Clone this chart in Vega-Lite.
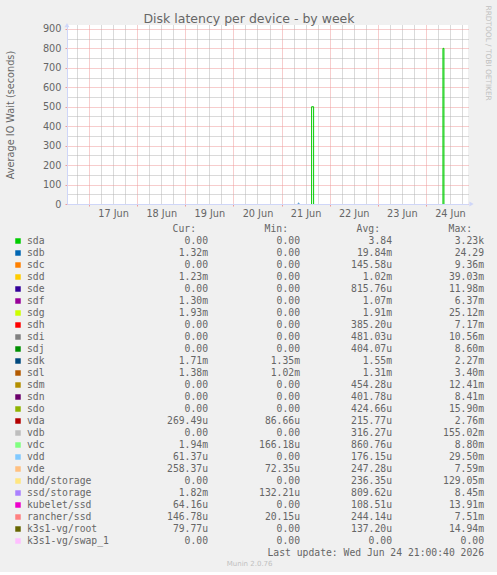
{
  "$schema": "https://vega.github.io/schema/vega-lite/v6.json",
  "background": "#f0f0f0",
  "padding": 5,
  "title": {
    "text": "RRDTOOL / TOBI OETIKER",
    "orient": "right",
    "anchor": "start",
    "frame": "bounds",
    "font": "DejaVu Sans",
    "fontSize": 7.4,
    "fontWeight": "normal",
    "color": "#c0c0c0",
    "offset": 1,
    "dx": -7
  },
  "datasets": {
    "series": [
      {"dev": "sda", "run": 1, "t": "2026-06-21T15:00:00", "v": 0, "seq": 1},
      {"dev": "sda", "run": 1, "t": "2026-06-21T15:00:00", "v": 500, "seq": 2},
      {"dev": "sda", "run": 1, "t": "2026-06-21T16:00:00", "v": 500, "seq": 3},
      {"dev": "sda", "run": 1, "t": "2026-06-21T16:00:00", "v": 0, "seq": 4},
      {"dev": "sda", "run": 2, "t": "2026-06-24T08:30:00", "v": 0, "seq": 5},
      {"dev": "sda", "run": 2, "t": "2026-06-24T08:30:00", "v": 800, "seq": 6},
      {"dev": "sda", "run": 2, "t": "2026-06-24T09:00:00", "v": 800, "seq": 7},
      {"dev": "sda", "run": 2, "t": "2026-06-24T09:00:00", "v": 0, "seq": 8},
      {"dev": "sdb", "run": 1, "t": "2026-06-21T08:00:00", "v": 0, "seq": 1},
      {"dev": "sdb", "run": 1, "t": "2026-06-21T08:30:00", "v": 4, "seq": 2},
      {"dev": "sdb", "run": 1, "t": "2026-06-21T09:00:00", "v": 0, "seq": 3}
    ],
    "legend": [
      {"dev": "sda", "cur": "0.00\u00a0", "min": "0.00\u00a0", "avg": "3.84\u00a0", "max": "3.23k"},
      {"dev": "sdb", "cur": "1.32m", "min": "0.00\u00a0", "avg": "19.84m", "max": "24.29\u00a0"},
      {"dev": "sdc", "cur": "0.00\u00a0", "min": "0.00\u00a0", "avg": "145.58u", "max": "9.36m"},
      {"dev": "sdd", "cur": "1.23m", "min": "0.00\u00a0", "avg": "1.02m", "max": "39.03m"},
      {"dev": "sde", "cur": "0.00\u00a0", "min": "0.00\u00a0", "avg": "815.76u", "max": "11.98m"},
      {"dev": "sdf", "cur": "1.30m", "min": "0.00\u00a0", "avg": "1.07m", "max": "6.37m"},
      {"dev": "sdg", "cur": "1.93m", "min": "0.00\u00a0", "avg": "1.91m", "max": "25.12m"},
      {"dev": "sdh", "cur": "0.00\u00a0", "min": "0.00\u00a0", "avg": "385.20u", "max": "7.17m"},
      {"dev": "sdi", "cur": "0.00\u00a0", "min": "0.00\u00a0", "avg": "481.03u", "max": "10.56m"},
      {"dev": "sdj", "cur": "0.00\u00a0", "min": "0.00\u00a0", "avg": "404.07u", "max": "8.60m"},
      {"dev": "sdk", "cur": "1.71m", "min": "1.35m", "avg": "1.55m", "max": "2.27m"},
      {"dev": "sdl", "cur": "1.38m", "min": "1.02m", "avg": "1.31m", "max": "3.40m"},
      {"dev": "sdm", "cur": "0.00\u00a0", "min": "0.00\u00a0", "avg": "454.28u", "max": "12.41m"},
      {"dev": "sdn", "cur": "0.00\u00a0", "min": "0.00\u00a0", "avg": "401.78u", "max": "8.41m"},
      {"dev": "sdo", "cur": "0.00\u00a0", "min": "0.00\u00a0", "avg": "424.66u", "max": "15.90m"},
      {"dev": "vda", "cur": "269.49u", "min": "86.66u", "avg": "215.77u", "max": "2.76m"},
      {"dev": "vdb", "cur": "0.00\u00a0", "min": "0.00\u00a0", "avg": "316.27u", "max": "155.02m"},
      {"dev": "vdc", "cur": "1.94m", "min": "166.18u", "avg": "860.76u", "max": "8.80m"},
      {"dev": "vdd", "cur": "61.37u", "min": "0.00\u00a0", "avg": "176.15u", "max": "29.50m"},
      {"dev": "vde", "cur": "258.37u", "min": "72.35u", "avg": "247.28u", "max": "7.59m"},
      {"dev": "hdd/storage", "cur": "0.00\u00a0", "min": "0.00\u00a0", "avg": "236.35u", "max": "129.05m"},
      {"dev": "ssd/storage", "cur": "1.82m", "min": "132.21u", "avg": "809.62u", "max": "8.45m"},
      {"dev": "kubelet/ssd", "cur": "64.16u", "min": "0.00\u00a0", "avg": "108.51u", "max": "13.91m"},
      {"dev": "rancher/ssd", "cur": "146.78u", "min": "20.15u", "avg": "244.14u", "max": "7.51m"},
      {"dev": "k3s1-vg/root", "cur": "79.77u", "min": "0.00\u00a0", "avg": "137.20u", "max": "14.94m"},
      {"dev": "k3s1-vg/swap_1", "cur": "0.00\u00a0", "min": "0.00\u00a0", "avg": "0.00\u00a0", "max": "0.00\u00a0"}
    ],
    "headers": [
      {"stat": "cur", "label": "Cur:"},
      {"stat": "min", "label": "Min:"},
      {"stat": "avg", "label": "Avg:"},
      {"stat": "max", "label": "Max:"}
    ]
  },
  "vconcat": [
    {
      "width": 401,
      "height": 179,
      "view": {"fill": "white", "stroke": null},
      "title": {
        "text": "Disk latency per device - by week",
        "anchor": "middle",
        "frame": "group",
        "dx": -18.5,
        "font": "DejaVu Sans",
        "fontSize": 12.5,
        "fontWeight": "normal",
        "color": "#666666",
        "offset": -2
      },
      "layer": [
        {
          "data": {"values": [{}]},
          "mark": {"type": "point", "shape": "triangle-up", "filled": true, "size": 25, "color": "#cfd6f8", "opacity": 1},
          "encoding": {
            "x": {
              "datum": {"year": 2026, "month": 6, "date": 16, "hours": 13},
              "type": "temporal",
              "scale": {"domain": [{"year": 2026, "month": 6, "date": 16, "hours": 13}, {"year": 2026, "month": 6, "date": 24, "hours": 21}]},
              "axis": {
                "orient": "bottom",
                "values": [
                  {"year": 2026, "month": 6, "date": 16, "hours": 18},
                  {"year": 2026, "month": 6, "date": 17, "hours": 6}, {"year": 2026, "month": 6, "date": 17, "hours": 12}, {"year": 2026, "month": 6, "date": 17, "hours": 18},
                  {"year": 2026, "month": 6, "date": 18, "hours": 6}, {"year": 2026, "month": 6, "date": 18, "hours": 12}, {"year": 2026, "month": 6, "date": 18, "hours": 18},
                  {"year": 2026, "month": 6, "date": 19, "hours": 6}, {"year": 2026, "month": 6, "date": 19, "hours": 12}, {"year": 2026, "month": 6, "date": 19, "hours": 18},
                  {"year": 2026, "month": 6, "date": 20, "hours": 6}, {"year": 2026, "month": 6, "date": 20, "hours": 12}, {"year": 2026, "month": 6, "date": 20, "hours": 18},
                  {"year": 2026, "month": 6, "date": 21, "hours": 6}, {"year": 2026, "month": 6, "date": 21, "hours": 12}, {"year": 2026, "month": 6, "date": 21, "hours": 18},
                  {"year": 2026, "month": 6, "date": 22, "hours": 6}, {"year": 2026, "month": 6, "date": 22, "hours": 12}, {"year": 2026, "month": 6, "date": 22, "hours": 18},
                  {"year": 2026, "month": 6, "date": 23, "hours": 6}, {"year": 2026, "month": 6, "date": 23, "hours": 12}, {"year": 2026, "month": 6, "date": 23, "hours": 18},
                  {"year": 2026, "month": 6, "date": 24, "hours": 6}, {"year": 2026, "month": 6, "date": 24, "hours": 12}, {"year": 2026, "month": 6, "date": 24, "hours": 18}
                ],
                "grid": true,
                "gridColor": "#b4b4b4",
                "gridDash": [1, 1],
                "ticks": false,
                "domain": false,
                "labels": false,
                "title": null
              }
            },
            "y": {
              "datum": 919,
              "type": "quantitative",
              "scale": {"domain": [0, 920]},
              "axis": {
                "orient": "left",
                "values": [50, 150, 250, 350, 450, 550, 650, 750, 850],
                "grid": true,
                "gridColor": "#b4b4b4",
                "gridDash": [1, 1],
                "ticks": false,
                "domain": false,
                "labels": false,
                "title": null
              }
            }
          }
        },
        {
          "data": {"name": "series"},
          "mark": {"type": "line", "strokeWidth": 1},
          "encoding": {
            "x": {
              "field": "t",
              "type": "temporal",
              "scale": {"domain": [{"year": 2026, "month": 6, "date": 16, "hours": 13}, {"year": 2026, "month": 6, "date": 24, "hours": 21}]},
              "axis": {
                "orient": "bottom",
                "values": [
                  {"year": 2026, "month": 6, "date": 17}, {"year": 2026, "month": 6, "date": 18}, {"year": 2026, "month": 6, "date": 19}, {"year": 2026, "month": 6, "date": 20},
                  {"year": 2026, "month": 6, "date": 21}, {"year": 2026, "month": 6, "date": 22}, {"year": 2026, "month": 6, "date": 23}, {"year": 2026, "month": 6, "date": 24}
                ],
                "grid": true,
                "gridColor": "#ee9a9a",
                "gridDash": [1, 1],
                "ticks": true,
                "tickColor": "#ee9a9a",
                "tickSize": 2,
                "domain": false,
                "labels": false,
                "title": null
              }
            },
            "y": {
              "field": "v",
              "type": "quantitative",
              "scale": {"domain": [0, 920]},
              "axis": {
                "orient": "left",
                "values": [0, 100, 200, 300, 400, 500, 600, 700, 800, 900],
                "grid": true,
                "gridColor": "#ee9a9a",
                "gridDash": [1, 1],
                "ticks": true,
                "tickColor": "#ee9a9a",
                "tickSize": 2,
                "domain": false,
                "labelPadding": 4,
                "title": "Average IO Wait (seconds)",
                "titlePadding": 27
              }
            },
            "color": {
              "field": "dev",
              "type": "nominal",
              "scale": {
                "domain": ["sda", "sdb", "sdc", "sdd", "sde", "sdf", "sdg", "sdh", "sdi", "sdj", "sdk", "sdl", "sdm", "sdn", "sdo", "vda", "vdb", "vdc", "vdd", "vde", "hdd/storage", "ssd/storage", "kubelet/ssd", "rancher/ssd", "k3s1-vg/root", "k3s1-vg/swap_1"],
                "range": ["#00cc00", "#0066b3", "#ff8000", "#ffcc00", "#330099", "#990099", "#ccff00", "#ff0000", "#808080", "#008f00", "#00487d", "#b35a00", "#b38f00", "#6b006b", "#8fb300", "#b30000", "#bebebe", "#80ff80", "#80c9ff", "#ffc080", "#ffe680", "#aa80ff", "#ee00cc", "#ff8080", "#666600", "#ffbfff"]
              },
              "legend": null
            },
            "detail": {"field": "run", "type": "nominal"},
            "order": {"field": "seq", "type": "quantitative"}
          }
        },
        {
          "data": {"values": [{}]},
          "mark": {"type": "point", "shape": "triangle-right", "filled": true, "size": 25, "color": "#cfd6f8", "opacity": 1},
          "encoding": {
            "x": {
              "datum": {"year": 2026, "month": 6, "date": 24, "hours": 22, "minutes": 45},
              "type": "temporal",
              "scale": {"domain": [{"year": 2026, "month": 6, "date": 16, "hours": 13}, {"year": 2026, "month": 6, "date": 24, "hours": 21}]},
              "axis": {
                "orient": "bottom",
                "values": [
                  {"year": 2026, "month": 6, "date": 17, "hours": 12}, {"year": 2026, "month": 6, "date": 18, "hours": 12}, {"year": 2026, "month": 6, "date": 19, "hours": 12}, {"year": 2026, "month": 6, "date": 20, "hours": 12},
                  {"year": 2026, "month": 6, "date": 21, "hours": 12}, {"year": 2026, "month": 6, "date": 22, "hours": 12}, {"year": 2026, "month": 6, "date": 23, "hours": 12}, {"year": 2026, "month": 6, "date": 24, "hours": 12}
                ],
                "format": "%d %b",
                "domain": true,
                "domainColor": "#cfd6f8",
                "grid": false,
                "ticks": false,
                "labelPadding": 4,
                "labelFlush": false,
                "labelOverlap": false,
                "title": null,
                "zindex": 1
              }
            },
            "y": {
              "datum": 0,
              "type": "quantitative",
              "scale": {"domain": [0, 920]},
              "axis": {"orient": "left", "domain": true, "domainColor": "#cfd6f8", "grid": false, "ticks": false, "labels": false, "title": null, "zindex": 1}
            }
          }
        }
      ],
      "resolve": {"axis": {"x": "independent", "y": "independent"}}
    },
    {
      "width": 417,
      "height": 324,
      "view": {"stroke": null, "fill": null},
      "title": {
        "text": "Munin 2.0.76",
        "orient": "bottom",
        "anchor": "middle",
        "frame": "bounds",
        "font": "DejaVu Sans",
        "fontSize": 7,
        "fontWeight": "normal",
        "color": "#c0c0c0",
        "offset": 2
      },
      "layer": [
        {
          "data": {"name": "legend"},
          "mark": {"type": "square", "size": 30, "opacity": 1},
          "encoding": {
            "x": {"datum": "swatch", "type": "nominal", "scale": {"type": "point", "domain": ["swatch", "name"], "range": [-49, -40], "padding": 0}, "axis": null},
            "y": {"field": "dev", "type": "nominal", "scale": {"type": "point", "padding": 0, "domain": ["_hdr", "sda", "sdb", "sdc", "sdd", "sde", "sdf", "sdg", "sdh", "sdi", "sdj", "sdk", "sdl", "sdm", "sdn", "sdo", "vda", "vdb", "vdc", "vdd", "vde", "hdd/storage", "ssd/storage", "kubelet/ssd", "rancher/ssd", "k3s1-vg/root", "k3s1-vg/swap_1", "_upd"]}, "axis": null},
            "color": {
              "field": "dev",
              "type": "nominal",
              "scale": {
                "domain": ["sda", "sdb", "sdc", "sdd", "sde", "sdf", "sdg", "sdh", "sdi", "sdj", "sdk", "sdl", "sdm", "sdn", "sdo", "vda", "vdb", "vdc", "vdd", "vde", "hdd/storage", "ssd/storage", "kubelet/ssd", "rancher/ssd", "k3s1-vg/root", "k3s1-vg/swap_1"],
                "range": ["#00cc00", "#0066b3", "#ff8000", "#ffcc00", "#330099", "#990099", "#ccff00", "#ff0000", "#808080", "#008f00", "#00487d", "#b35a00", "#b38f00", "#6b006b", "#8fb300", "#b30000", "#bebebe", "#80ff80", "#80c9ff", "#ffc080", "#ffe680", "#aa80ff", "#ee00cc", "#ff8080", "#666600", "#ffbfff"]
              },
              "legend": null
            }
          }
        },
        {
          "data": {"name": "legend"},
          "mark": {"type": "text", "align": "left", "baseline": "middle", "font": "DejaVu Sans Mono", "fontSize": 9.72, "color": "#666666"},
          "encoding": {
            "x": {"datum": "name", "type": "nominal", "scale": {"type": "point", "domain": ["swatch", "name"], "range": [-49, -40], "padding": 0}, "axis": null},
            "y": {"field": "dev", "type": "nominal", "scale": {"type": "point", "padding": 0, "domain": ["_hdr", "sda", "sdb", "sdc", "sdd", "sde", "sdf", "sdg", "sdh", "sdi", "sdj", "sdk", "sdl", "sdm", "sdn", "sdo", "vda", "vdb", "vdc", "vdd", "vde", "hdd/storage", "ssd/storage", "kubelet/ssd", "rancher/ssd", "k3s1-vg/root", "k3s1-vg/swap_1", "_upd"]}, "axis": null},
            "text": {"field": "dev"}
          }
        },
        {
          "data": {"name": "legend"},
          "transform": [{"fold": ["cur", "min", "avg", "max"], "as": ["stat", "val"]}],
          "mark": {"type": "text", "align": "right", "baseline": "middle", "font": "DejaVu Sans Mono", "fontSize": 9.72, "color": "#666666"},
          "encoding": {
            "x": {"field": "stat", "type": "nominal", "scale": {"type": "point", "domain": ["cur", "min", "avg", "max"], "range": [141, 417], "padding": 0}, "axis": null},
            "y": {"field": "dev", "type": "nominal", "scale": {"type": "point", "padding": 0, "domain": ["_hdr", "sda", "sdb", "sdc", "sdd", "sde", "sdf", "sdg", "sdh", "sdi", "sdj", "sdk", "sdl", "sdm", "sdn", "sdo", "vda", "vdb", "vdc", "vdd", "vde", "hdd/storage", "ssd/storage", "kubelet/ssd", "rancher/ssd", "k3s1-vg/root", "k3s1-vg/swap_1", "_upd"]}, "axis": null},
            "text": {"field": "val"}
          }
        },
        {
          "data": {"name": "headers"},
          "mark": {"type": "text", "align": "right", "baseline": "middle", "dx": -12, "font": "DejaVu Sans Mono", "fontSize": 9.72, "color": "#666666"},
          "encoding": {
            "x": {"field": "stat", "type": "nominal", "scale": {"type": "point", "domain": ["cur", "min", "avg", "max"], "range": [141, 417], "padding": 0}, "axis": null},
            "y": {"datum": "_hdr", "type": "nominal", "scale": {"type": "point", "padding": 0, "domain": ["_hdr", "sda", "sdb", "sdc", "sdd", "sde", "sdf", "sdg", "sdh", "sdi", "sdj", "sdk", "sdl", "sdm", "sdn", "sdo", "vda", "vdb", "vdc", "vdd", "vde", "hdd/storage", "ssd/storage", "kubelet/ssd", "rancher/ssd", "k3s1-vg/root", "k3s1-vg/swap_1", "_upd"]}, "axis": null},
            "text": {"field": "label"}
          }
        },
        {
          "data": {"values": [{"note": "Last update: Wed Jun 24 21:00:40 2026"}]},
          "mark": {"type": "text", "align": "right", "baseline": "middle", "font": "DejaVu Sans Mono", "fontSize": 9.72, "color": "#666666"},
          "encoding": {
            "x": {"datum": "max", "type": "nominal", "scale": {"type": "point", "domain": ["cur", "min", "avg", "max"], "range": [141, 417], "padding": 0}, "axis": null},
            "y": {"datum": "_upd", "type": "nominal", "scale": {"type": "point", "padding": 0, "domain": ["_hdr", "sda", "sdb", "sdc", "sdd", "sde", "sdf", "sdg", "sdh", "sdi", "sdj", "sdk", "sdl", "sdm", "sdn", "sdo", "vda", "vdb", "vdc", "vdd", "vde", "hdd/storage", "ssd/storage", "kubelet/ssd", "rancher/ssd", "k3s1-vg/root", "k3s1-vg/swap_1", "_upd"]}, "axis": null},
            "text": {"field": "note"}
          }
        }
      ],
      "resolve": {"scale": {"x": "independent"}}
    }
  ],
  "spacing": 25,
  "bounds": "flush",
  "config": {
    "font": "DejaVu Sans",
    "view": {"stroke": null},
    "axis": {
      "labelFont": "DejaVu Sans",
      "labelFontSize": 9.72,
      "labelColor": "#666666",
      "titleFont": "DejaVu Sans",
      "titleFontSize": 9.72,
      "titleFontWeight": "normal",
      "titleColor": "#666666"
    }
  }
}
